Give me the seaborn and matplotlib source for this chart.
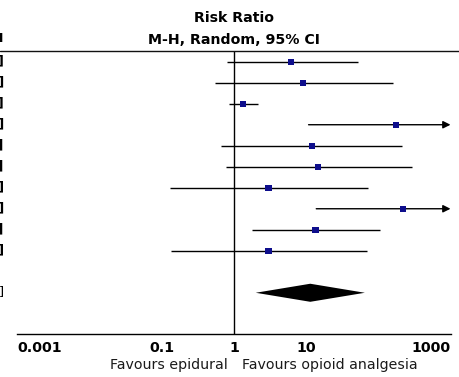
import matplotlib
matplotlib.use("Agg")
import matplotlib.pyplot as plt
from matplotlib.ticker import NullLocator
import seaborn as sns
import pandas as pd
import numpy as np

# ---- data (risk ratios) ----
study_rr = [6.2, 9.0, 1.33, 174.0, 12.0, 14.6, 3.0, 222.0, 13.5, 3.0]
study_lo = [0.79, 0.54, 0.85, 10.8, 0.66, 0.785, 0.13, 13.8, 1.8, 0.134]
study_hi = [52.0, 161.0, 2.18, 2800.0, 215.0, 290.0, 72.6, 3600.0, 105.0, 69.7]
pooled_rr = 11.4
pooled_lo = 2.0
pooled_hi = 65.0
tick_values = [0.001, 0.1, 1, 10, 1000]
tick_labels = ["0.001", "0.1", "1", "10", "1000"]
title_lines = ["Risk Ratio", "M-H, Random, 95% CI"]
favours_left = "Favours epidural"
favours_right = "Favours opioid analgesia"

sns.set_style("white")
plt.rcParams["font.family"] = ["DejaVu Sans"]
plt.rcParams["text.color"] = "black"

df = pd.DataFrame({"row": np.arange(len(study_rr)), "rr": study_rr,
                   "lo": study_lo, "hi": study_hi})

fig = plt.figure(figsize=(4.6, 3.77), dpi=100)
ax = fig.add_axes([0, 0, 1, 1])
ax.set_xscale("log")
ax.set_xlim(10 ** -3.242, 10 ** 3.1316)
ax.set_ylim(15.01, -2.938)
xmax_axis = tick_values[-1]

# CI lines
for _, r in df.iterrows():
    if r.hi > xmax_axis:
        ax.annotate("", xy=(xmax_axis, r.row), xytext=(r.lo, r.row),
                    arrowprops=dict(arrowstyle="-|>", lw=1.0, color="black",
                                    mutation_scale=11, shrinkA=0, shrinkB=0))
    else:
        ax.hlines(r.row, r.lo, r.hi, color="black", lw=1.0)

sns.scatterplot(data=df, x="rr", y="row", marker="s", s=20, color="#0e0e8c",
                edgecolor="none", ax=ax, zorder=3, legend=False)

# pooled diamond
prow = len(study_rr) + 1
h = 0.43
ax.fill([pooled_lo, pooled_rr, pooled_hi, pooled_rr],
        [prow, prow - h, prow, prow + h], color="black", lw=0)

# reference line and header line
axis_row = 12.97
ax.vlines(1, -0.52, axis_row, color="black", lw=1.0)
ax.axhline(-0.52, color="#111111", lw=1.0)

ax.text(1, -2.08, title_lines[0], ha="center", va="center", fontweight="bold", fontsize=10.2)
ax.text(1, -1.03, title_lines[1], ha="center", va="center", fontweight="bold", fontsize=10.2)

# cut-off left column text (only tail visible)
fx = ax.get_xlim()[0] * 10 ** (3.8 / 72.2)
ax.text(fx, -1.1, "95% CI", ha="right", va="center", fontweight="bold", fontsize=9.5)
for _, r in df.iterrows():
    ax.text(fx, r.row, f"{r.rr:.2f} [{r.lo:.2f}, {r.hi:.2f}]", ha="right",
            va="center", fontweight="bold", fontsize=9.5)
ax.text(fx, prow, f"{pooled_rr:.2f} [{pooled_lo:.2f}, {pooled_hi:.2f}]",
        ha="right", va="center", fontsize=9.5)

# favours labels
ax.text(0.81, 14.44, favours_left, ha="right", va="center", fontsize=10.2, color="#1a1a1a")
ax.text(1.31, 14.44, favours_right, ha="left", va="center", fontsize=10.2, color="#1a1a1a")

# x axis
for s in ["left", "right", "top"]:
    ax.spines[s].set_visible(False)
ax.spines["bottom"].set_position(("data", axis_row))
ax.spines["bottom"].set_bounds(tick_values[0], tick_values[-1])
ax.spines["bottom"].set_linewidth(1.0)
ax.spines["bottom"].set_color("black")
ax.set_xticks(tick_values)
ax.set_xticklabels(tick_labels)
ax.xaxis.set_minor_locator(NullLocator())
ax.tick_params(axis="x", direction="inout", length=10, width=1.0, pad=0,
               labelsize=10.2, colors="black")
for lab in ax.get_xticklabels():
    lab.set_fontweight("bold")
ax.get_xticklabels()[0].set_ha("left")
ax.get_xticklabels()[-1].set_ha("right")
ax.yaxis.set_visible(False)
ax.set_xlabel("")

fig.savefig("out.png", dpi=100)
